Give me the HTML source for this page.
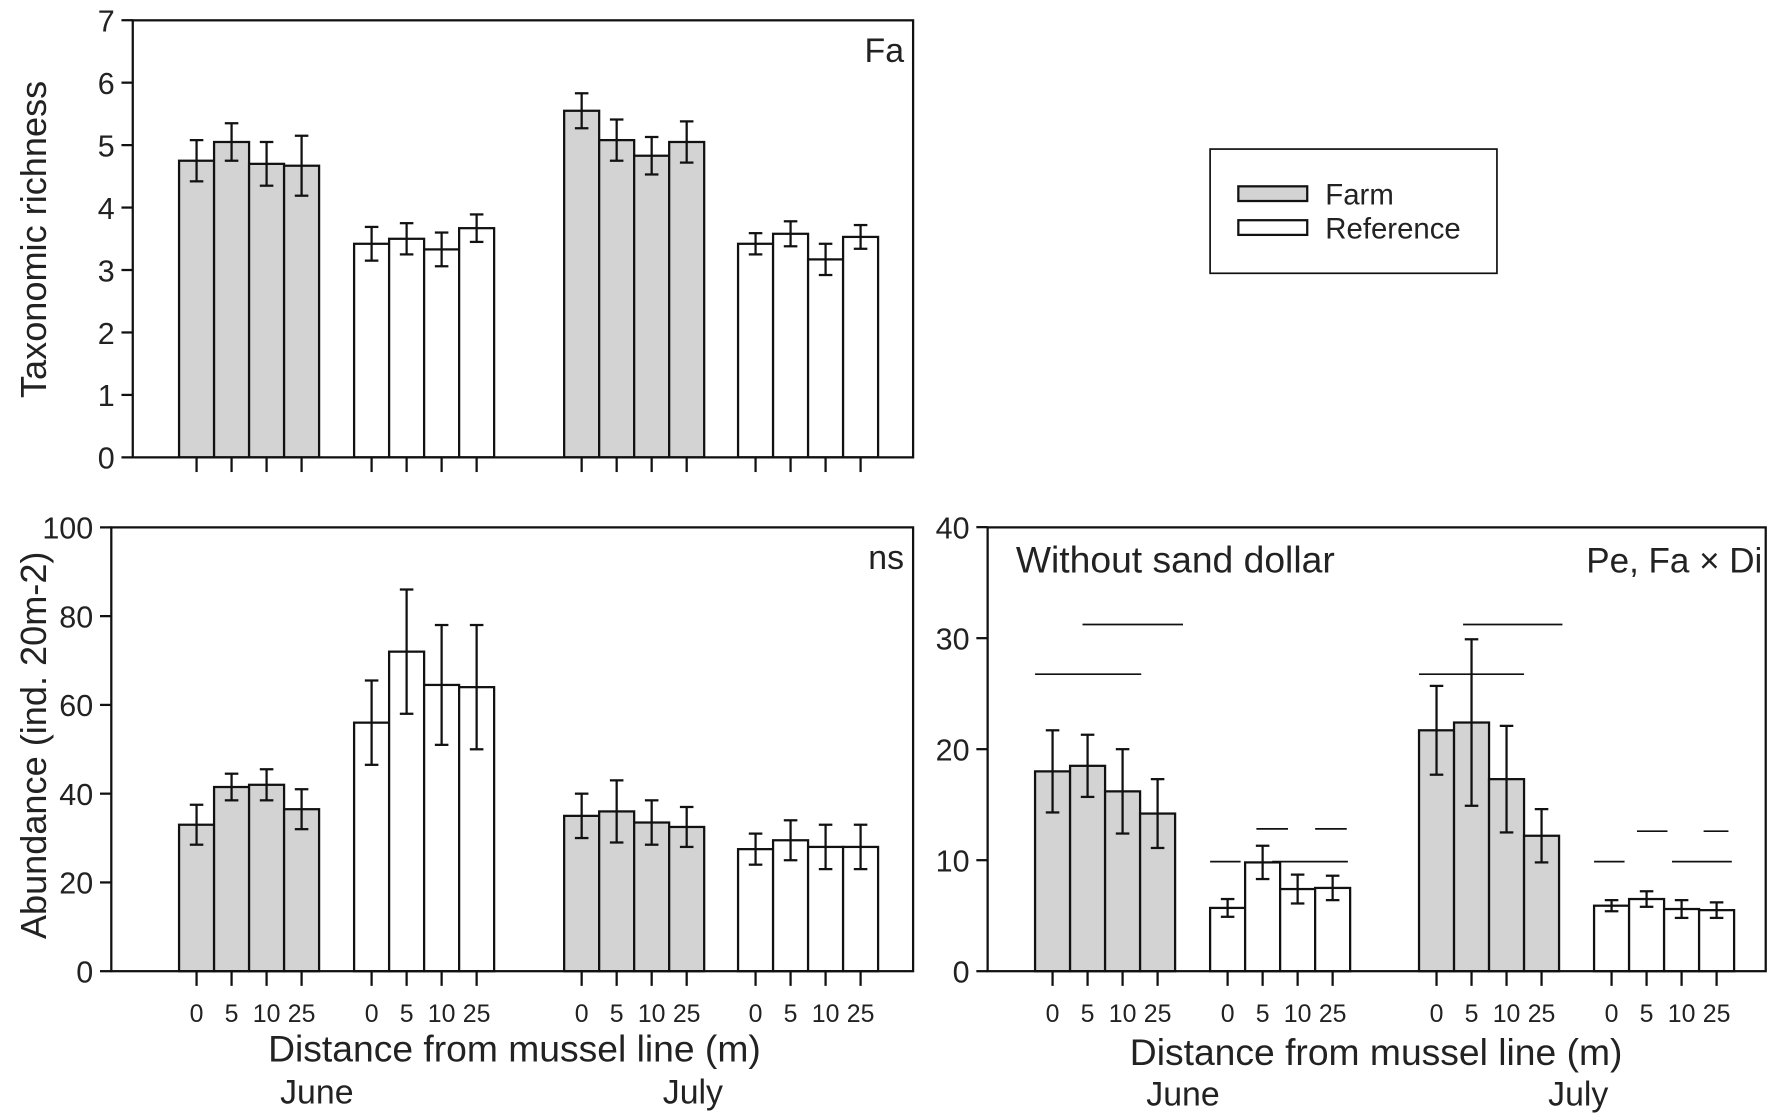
<!DOCTYPE html>
<html><head><meta charset="utf-8"><style>html,body{margin:0;padding:0;background:#fff}svg{display:block}text{font-family:"Liberation Sans",sans-serif;fill:#222}</style></head>
<body>
<svg id="s" width="1772" height="1118" viewBox="0 0 1568 990" xmlns="http://www.w3.org/2000/svg"></svg>
<script>
const s=document.getElementById('s');let h='';
function L(x1,y1,x2,y2,w){h+=`<line x1="${x1}" y1="${y1}" x2="${x2}" y2="${y2}" stroke="#111" stroke-width="${w||2}"/>`;}
function T(x,y,t,sz,a,extra){h+=`<text x="${x}" y="${y}" font-size="${sz}" text-anchor="${a||'start'}" ${extra||''}>${t}</text>`;}
function panel(o){
 o.groups.forEach((g,gi)=>{g.x.forEach((x,i)=>{const v=g.v[i],e=g.e[i];const y=o.y0-v*o.k;const c=x+15.5;
  h+=`<rect x="${x}" y="${y}" width="31" height="${o.y0-y}" fill="${gi%2==0?'#d3d3d3':'#fff'}" stroke="#111" stroke-width="2"/>`;
  L(c,o.y0-(v+e)*o.k,c,o.y0-(v-e)*o.k,2);L(c-6,o.y0-(v+e)*o.k,c+6,o.y0-(v+e)*o.k);L(c-6,o.y0-(v-e)*o.k,c+6,o.y0-(v-e)*o.k);
  L(c,o.y0,c,o.y0+13);
  if(o.lab) T(c,o.y0+45,['0','5','10','25'][i],22,'middle');
 });});
 h+=`<rect x="${o.l}" y="${o.t}" width="${o.r-o.l}" height="${o.y0-o.t}" fill="none" stroke="#111" stroke-width="2"/>`;
 o.ticks.forEach(tv=>{const y=o.y0-tv*o.k;L(o.l-10,y,o.l,y);T(o.l-16,y+10,tv,27,'end');});
}
const xs=[[158,189,220,251],[313,344,375,406],[499,530,561,592],[653,684,715,746]];
const xs2=[[916,947,978,1009],[1071,1102,1133,1164],[1256,1287,1318,1349],[1411,1442,1473,1504]];
panel({l:117,r:808,t:18,y0:405,k:55.3,ticks:[0,1,2,3,4,5,6,7],lab:false,groups:[
 {x:xs[0],v:[4.75,5.05,4.7,4.67],e:[.33,.3,.35,.48]},
 {x:xs[1],v:[3.42,3.5,3.33,3.67],e:[.27,.25,.27,.22]},
 {x:xs[2],v:[5.55,5.08,4.83,5.05],e:[.28,.33,.3,.33]},
 {x:xs[3],v:[3.42,3.58,3.17,3.53],e:[.17,.2,.25,.19]}]});
T(800,55,'Fa',30,'end');
T(0,0,'Taxonomic richness',32,'middle','transform="translate(40,212) rotate(-90)"');
h+=`<rect x="1071" y="132" width="254" height="110" fill="#fff" stroke="#111" stroke-width="1.5"/>`;
h+=`<rect x="1096" y="165" width="61" height="13" fill="#d3d3d3" stroke="#111" stroke-width="2"/>`;
h+=`<rect x="1096" y="195" width="61" height="13" fill="#fff" stroke="#111" stroke-width="2"/>`;
T(1173,181,'Farm',26);T(1173,211,'Reference',26);
panel({l:98,r:808,t:467,y0:860,k:3.93,ticks:[0,20,40,60,80,100],lab:true,groups:[
 {x:xs[0],v:[33,41.5,42,36.5],e:[4.5,3,3.5,4.5]},
 {x:xs[1],v:[56,72,64.5,64],e:[9.5,14,13.5,14]},
 {x:xs[2],v:[35,36,33.5,32.5],e:[5,7,5,4.5]},
 {x:xs[3],v:[27.5,29.5,28,28],e:[3.5,4.5,5,5]}]});
T(800,504,'ns',30,'end');
T(0,0,'Abundance (ind. 20m-2)',32,'middle','transform="translate(40,660) rotate(-90)"');
T(455,940,'Distance from mussel line (m)',33,'middle');
T(280,977,'June',30,'middle');T(613,977,'July',30,'middle');
panel({l:874,r:1563,t:467,y0:860,k:9.83,ticks:[0,10,20,30,40],lab:true,groups:[
 {x:xs2[0],v:[18,18.5,16.2,14.2],e:[3.7,2.8,3.8,3.1]},
 {x:xs2[1],v:[5.7,9.8,7.4,7.5],e:[.8,1.5,1.3,1.1]},
 {x:xs2[2],v:[21.7,22.4,17.3,12.2],e:[4,7.5,4.8,2.4]},
 {x:xs2[3],v:[5.9,6.5,5.6,5.5],e:[.5,.7,.8,.7]}]});
T(899,507,'Without sand dollar',33);T(1560,507,'Pe, Fa × Di',31,'end');
[[916,1010,597],[958,1047,553],[1256,1349,597],[1295,1383,553],[1071,1098,763],[1112,1140,734],[1164,1192,734],[1126,1193,763],[1411,1438,763],[1449,1476,736],[1508,1530,736],[1480,1533,763]].forEach(a=>L(a[0],a[2],a[1],a[2],1.5));
T(1218,943,'Distance from mussel line (m)',33,'middle');
T(1047,979,'June',30,'middle');T(1397,979,'July',30,'middle');
s.innerHTML=h;
</script>
</body></html>
